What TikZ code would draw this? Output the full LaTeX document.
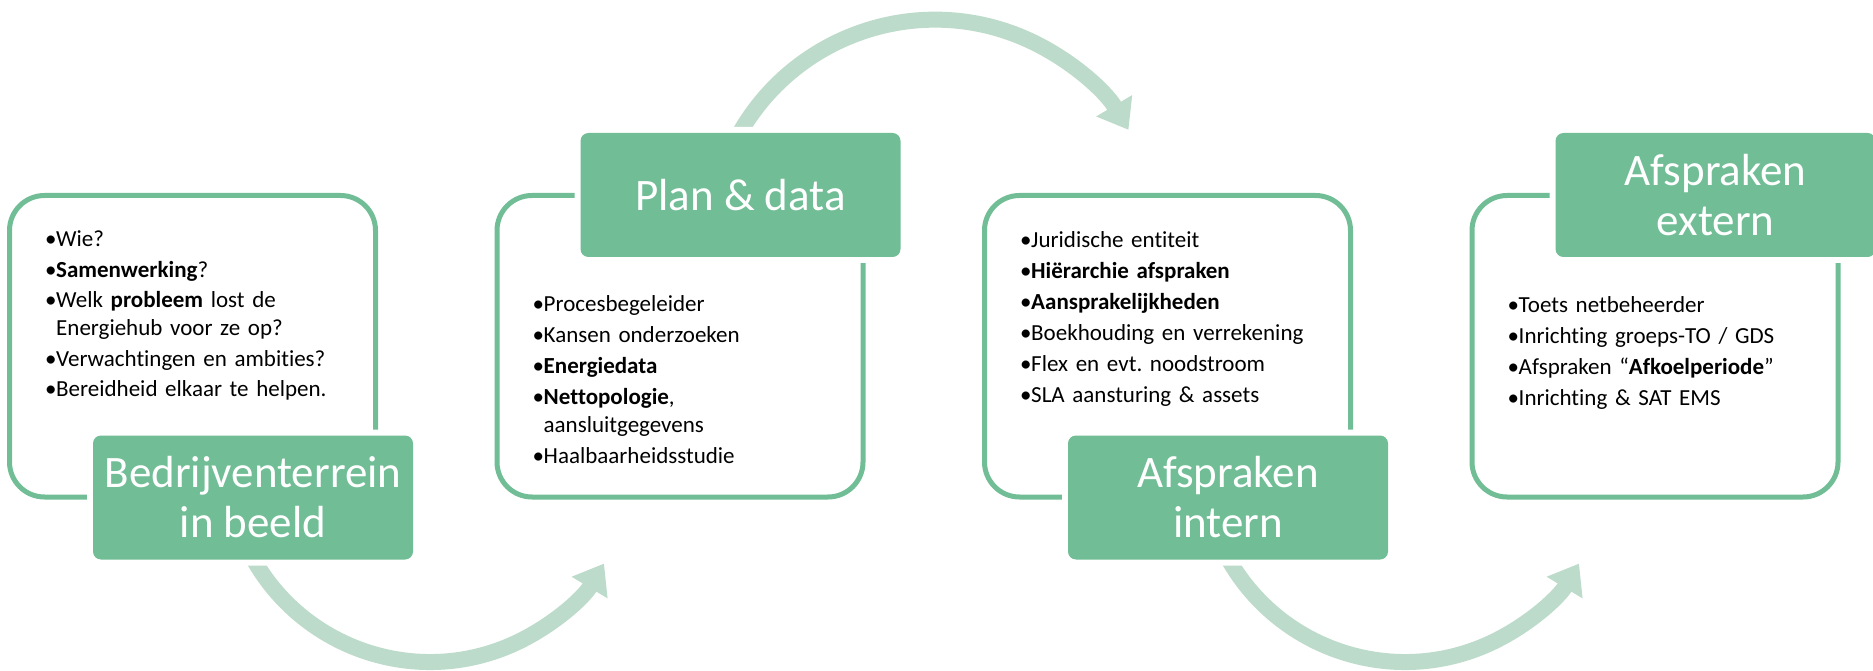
\documentclass[tikz,border=0pt]{standalone}
\usepackage{fontspec}
\setmainfont{Carlito}[Ligatures=NoCommon]
\usetikzlibrary{arrows.meta}
\frenchspacing

\definecolor{boxgreen}{HTML}{71BD96}
\definecolor{arrowgreen}{HTML}{BDDBCA}

\newcommand{\bul}{\makebox[11pt][l]{•}}
\newcommand{\ind}{\hspace*{11pt}}

\tikzstyle{outbox} = [draw=boxgreen, line width=5pt, rounded corners=35pt, minimum width=366pt, minimum height=301.5pt, inner sep=0pt]
\tikzstyle{titlebox} = [fill=boxgreen, rounded corners=8pt, minimum width=320pt, minimum height=124pt, inner sep=0pt, text=white, align=center, font=\fontsize{45}{50}\selectfont, preaction={draw=white, line width=12pt}]
\tikzstyle{lst} = [anchor=base west, inner sep=0pt, text width=340pt, align=left, font=\fontsize{23}{28}\selectfont]
\tikzstyle{cyclearrow} = [draw=arrowgreen, line width=16pt, -{Triangle[length=28pt,width=40pt]}]

\begin{document}
\begin{tikzpicture}[x=1pt, y=1pt]

\path[use as bounding box, fill=white] (0,0) rectangle (1873,670);

% outlined boxes
\node[outbox] (out1) at (192.5,323.75) {};
\node[outbox] (out2) at (680,323.75) {};
\node[outbox] (out3) at (1167.5,323.75) {};
\node[outbox] (out4) at (1655,323.75) {};

% arrows between the steps
\coordinate (arr1) at ([shift={(430,211)}]205:203);
\draw[cyclearrow] (arr1) arc[start angle=205, end angle=329, radius=203];

\coordinate (arr2) at ([shift={(935,425.3)}]155:225);
\draw[cyclearrow] (arr2) arc[start angle=155, end angle=30.7, radius=225];

\coordinate (arr3) at ([shift={(1405,211)}]205:203);
\draw[cyclearrow] (arr3) arc[start angle=205, end angle=329, radius=203];

%STEP1
\node[titlebox] (step1) at (253,172.5) {Bedrijventerrein\\in beeld};
\node[lst] (list1) at (45,423) {%
\bul Wie?\\[2.5pt]
\bul\textbf{Samenwerking}?\\[2.5pt]
\bul Welk \textbf{probleem} lost de\\
\ind Energiehub voor ze op?\\[2.5pt]
\bul Verwachtingen en ambities?\\[2.5pt]
\bul Bereidheid elkaar te helpen.};

%STEP2
\node[titlebox] (step2) at (740.5,475) {Plan \& data};
\node[lst] (list2) at (532.5,358) {%
\bul Procesbegeleider\\[3pt]
\bul Kansen onderzoeken\\[3pt]
\bul\textbf{Energiedata}\\[3pt]
\bul\textbf{Nettopologie},\\
\ind aansluitgegevens\\[3pt]
\bul Haalbaarheidsstudie};

%STEP3
\node[titlebox] (step3) at (1228,172.5) {Afspraken\\intern};
\node[lst] (list3) at (1020,422) {%
\bul Juridische entiteit\\[3pt]
\bul\textbf{Hiërarchie afspraken}\\[3pt]
\bul\textbf{Aansprakelijkheden}\\[3pt]
\bul Boekhouding en verrekening\\[3pt]
\bul Flex en evt. noodstroom\\[3pt]
\bul SLA aansturing \& assets};

%STEP4
\node[titlebox] (step4) at (1715.5,475) {Afspraken\\extern};
\node[lst] (list4) at (1507.5,357) {%
\bul Toets netbeheerder\\[3pt]
\bul Inrichting groeps-TO / GDS\\[3pt]
\bul Afspraken “\textbf{Afkoelperiode}”\\[3pt]
\bul Inrichting \& SAT EMS};

\end{tikzpicture}
\end{document}
